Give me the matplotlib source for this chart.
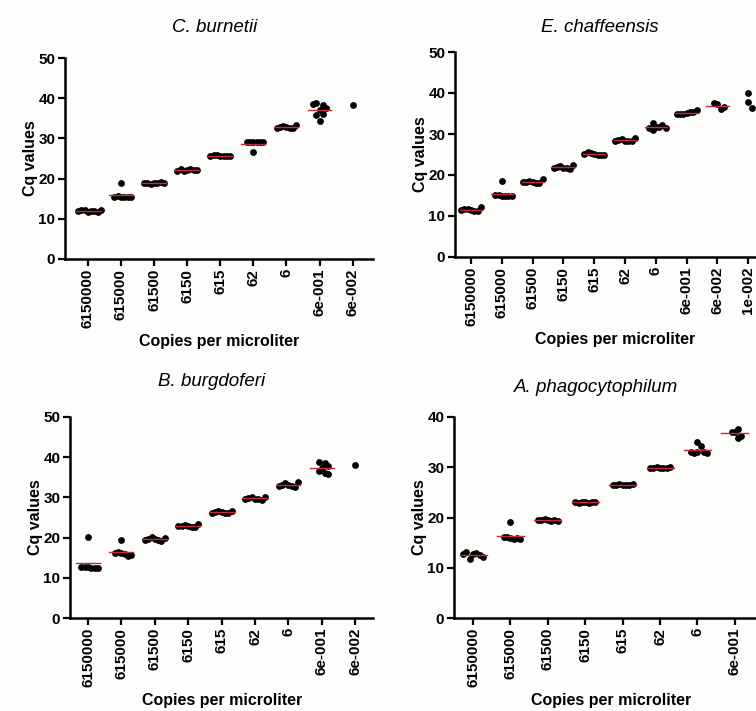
"""
Cq values vs. copies per microliter, four standard curves.
"""

import numpy as np
import matplotlib
matplotlib.use("Agg")
import matplotlib.pyplot as plt

plt.rcParams['font.family'] = ['Liberation Sans', 'DejaVu Sans']

dilutions = ['6150000', '615000', '61500', '6150', '615', '62', '6', '6e-001', '6e-002']
dilutions_ech = dilutions + ['1e-002']
dilutions_aph = dilutions[:8]

burnetii = [
    [11.8, 12.0, 12.1, 11.9, 12.3, 11.7, 12.0, 12.1],
    [19.0, 15.5, 15.3, 15.6, 15.4, 15.5, 15.3],
    [18.8, 19.0, 18.7, 19.2, 18.9, 18.8, 19.0],
    [22.1, 22.3, 22.0, 22.2, 22.5, 22.1, 22.0],
    [25.7, 25.6, 25.8, 25.7, 25.9, 25.6, 25.7],
    [29.1, 29.0, 26.7, 29.1, 29.0, 29.2, 29.0],
    [32.8, 32.6, 33.1, 32.5, 32.9, 33.3, 32.7],
    [37.0, 38.2, 36.0, 34.4, 38.8, 37.6, 35.9, 38.5],
    [38.4],
]

chaffeensis = [
    [11.5, 11.3, 11.8, 11.1, 11.6, 12.2, 11.4],
    [18.5, 14.9, 14.8, 15.1, 14.9, 15.2, 14.8],
    [18.3, 18.1, 18.6, 18.0, 18.4, 19.0, 18.2],
    [21.8, 21.6, 22.2, 21.5, 21.9, 22.5, 21.7],
    [25.0, 24.8, 25.3, 24.9, 25.6, 24.8, 25.2],
    [28.4, 28.3, 28.7, 28.2, 28.5, 29.0, 28.4],
    [31.6, 31.8, 31.0, 32.1, 31.5, 32.8, 31.4],
    [35.1, 35.3, 34.9, 35.4, 35.0, 35.8, 34.8],
    [37.2, 36.2, 37.6, 36.6],
    [37.9, 40.0, 36.4],
]

burgdoferi = [
    [20.1, 12.6, 12.4, 12.8, 12.5, 12.7, 12.4],
    [19.4, 16.2, 15.8, 16.5, 15.5, 16.1, 15.7],
    [19.7, 19.4, 20.1, 19.2, 19.6, 19.9, 19.3],
    [22.9, 22.7, 23.2, 22.6, 23.0, 23.3, 22.8],
    [26.3, 26.1, 26.6, 26.0, 26.4, 26.7, 26.2],
    [29.7, 29.5, 30.1, 29.4, 29.8, 30.2, 29.6],
    [33.1, 32.8, 33.6, 32.7, 33.2, 33.8, 32.9],
    [37.2, 38.6, 36.0, 38.9, 36.5, 37.8, 35.8],
    [38.1],
]

phagocytophilum = [
    [12.7, 12.9, 11.8, 12.6, 13.1, 12.2, 12.8],
    [19.1, 16.0, 15.8, 16.1, 15.9, 16.2, 15.8],
    [19.6, 19.4, 19.7, 19.5, 19.6, 19.3, 19.5],
    [23.0, 22.9, 23.1, 23.0, 22.9, 23.1, 23.0],
    [26.5, 26.4, 26.6, 26.5, 26.4, 26.6, 26.5],
    [29.9, 29.8, 30.0, 29.9, 29.8, 30.0, 29.9],
    [33.0, 35.0, 34.3, 32.9, 33.1, 33.0, 32.9],
    [37.0, 37.7, 35.9, 37.1, 36.3],
]

titles = ['C. burnetii', 'E. chaffeensis', 'B. burgdoferi', 'A. phagocytophilum']

W, H = 756, 711
BG = '#fdfdfb'
DOT = 6.0  # dot diameter in pixels


def swarm(vals, xpx, ypx):
    # spread points sideways so near-equal values do not sit on top of each other
    placed, offs = [], []
    gap = 0.55 * DOT
    step = gap / xpx
    cands = [0] + [s * i for i in range(1, 30) for s in (1, -1)]
    for v in vals:
        for c in cands:
            xo = c * step
            if all(((xo - po) * xpx) ** 2 + ((v - pv) * ypx * 0.45) ** 2 >= gap ** 2
                   for po, pv in placed):
                break
        placed.append((xo, v))
        offs.append(xo)
    return offs


def panel(fig, data, labels, title, title_xy, left, y0, ytop, spacing, xmin, xmax, ymax, yticks):
    # pixel positions measured from the top-left corner of the image
    x_right = left + (xmax - xmin) * spacing
    ax = fig.add_axes([left / W, (H - y0) / H, (x_right - left) / W, (y0 - ytop) / H])
    ax.set_facecolor(BG)
    ax.set_xlim(xmin, xmax)
    ax.set_ylim(0, ymax)
    ypx = (y0 - ytop) / ymax
    for i, vals in enumerate(data):
        offs = swarm(vals, spacing, ypx)
        ax.scatter(np.array(offs) + i, vals, s=24, color='black', linewidths=0, zorder=2)
        if len(vals) > 3:
            m = np.mean(vals)
            ax.plot([i - 0.36, i + 0.36], [m, m], color='#c8283c', lw=1.0, zorder=3)
    ax.set_xticks(range(len(labels)))
    ax.set_xticklabels(labels, rotation=90, fontsize=11, fontweight='bold')
    ax.set_yticks(yticks)
    ax.set_yticklabels([str(t) for t in yticks], fontsize=11, fontweight='bold')
    for s in ('top', 'right'):
        ax.spines[s].set_visible(False)
    for s in ('left', 'bottom'):
        ax.spines[s].set_linewidth(1.8)
    ax.tick_params(direction='out', length=5, width=1.6, pad=2)
    ax.set_ylabel('Cq values', fontsize=11.5, fontweight='bold', labelpad=0)
    ax.set_xlabel('Copies per microliter', fontsize=11.5, fontweight='bold', labelpad=4)
    fig.text(title_xy[0] / W, 1 - title_xy[1] / H, title, fontsize=13.5, style='italic',
             ha='center', va='center')
    return ax


fig = plt.figure(figsize=(W / 100, H / 100), dpi=100, facecolor=BG)

panel(fig, burnetii, dilutions, titles[0], (215, 27), 65, 259, 58, 33.1, -0.69, 8.63, 50, [0, 10, 20, 30, 40, 50])
panel(fig, chaffeensis, dilutions_ech, titles[1], (600, 28), 455, 257, 52, 30.8, -0.52, 9.9, 50, [0, 10, 20, 30, 40, 50])
panel(fig, burgdoferi, dilutions, titles[2], (212, 382), 70, 618, 417, 33.4, -0.54, 8.54, 50, [0, 10, 20, 30, 40, 50])
panel(fig, phagocytophilum, dilutions_aph, titles[3], (596, 387), 454, 618, 417, 37.4, -0.51, 7.9, 40, [0, 10, 20, 30, 40])

fig.savefig('out.png', dpi=100, facecolor=BG)
